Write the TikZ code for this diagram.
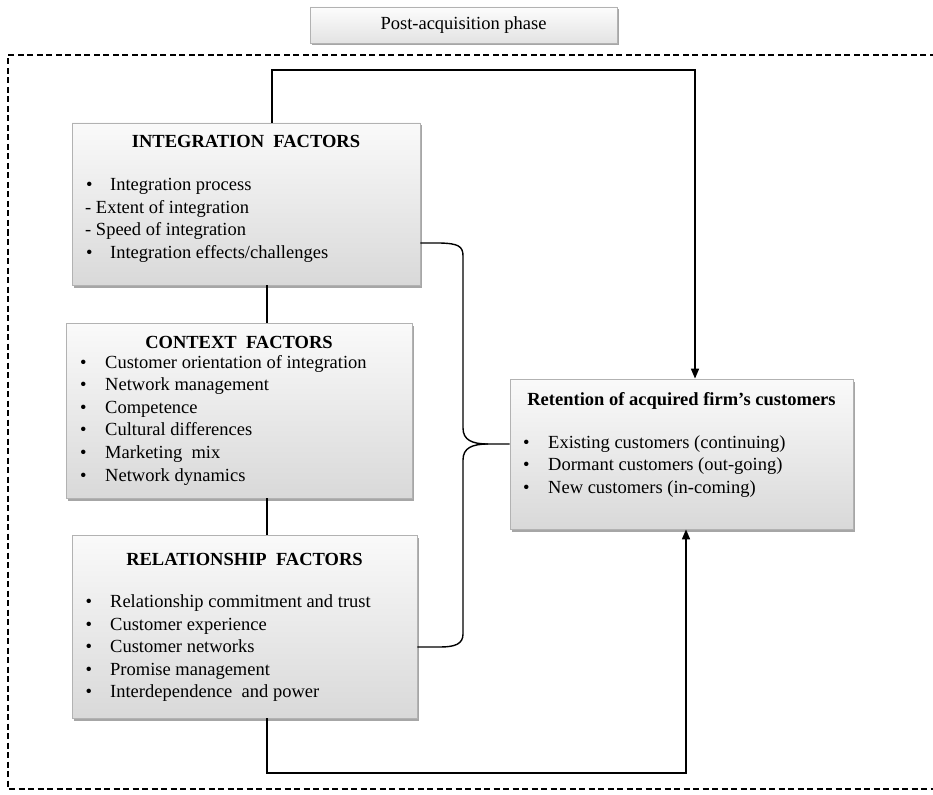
\documentclass[tikz,border=0pt]{standalone}
\usepackage{fontspec}
\setmainfont{Liberation Serif}
\usetikzlibrary{arrows.meta,shadows}

% bullet followed by a fixed indent
\newcommand\blt[1]{\makebox[#1][l]{\textbullet}}

\begin{document}
\begin{tikzpicture}[x=1pt,y=-1pt,
  txt/.style={inner sep=0pt,font=\fontsize{18.5}{22.6}\selectfont},
  head/.style={txt,anchor=base,font=\fontsize{18.5}{22.6}\selectfont\bfseries},
  item/.style={txt,anchor=base west},
  panel/.style={draw=gray!60,line width=0.8pt,top color=gray!4,bottom color=gray!30,
    drop shadow={shadow xshift=2pt,shadow yshift=-2.5pt,opacity=0.35,fill=black},
    inner sep=0pt},
  link/.style={line width=1.6pt,black},
  arrow/.style={link,-{Triangle[length=10pt,width=8pt]}}
]
\useasboundingbox (0,0) rectangle (933,794);

% phase frame (open to the right)
\draw[line width=1.5pt,dash pattern=on 6pt off 3.5pt] (945,55) -- (8,55) -- (8,789) -- (945,789);

% phase label
\node[panel,top color=gray!2,bottom color=gray!22,minimum width=307pt,minimum height=36pt,
  font=\fontsize{18.5}{22.6}\selectfont] (phase) at (463.5,25) {Post-acquisition phase};

% factor panels
\node[panel,minimum width=348pt,minimum height=162pt] (int) at (246,204) {};
\node[panel,minimum width=346pt,minimum height=175pt] (ctx) at (239,410.5) {};
\node[panel,minimum width=345pt,minimum height=183pt] (rel) at (244.5,626.5) {};
\node[panel,minimum width=343pt,minimum height=150pt] (ret) at (681.5,454) {};

% integration factors
\node[head] (int-h) at (246,148) {INTEGRATION\ \ FACTORS};
\node[item] (int-1) at (86,191)   {\blt{24pt}Integration process};
\node[item] (int-2) at (85,213.3) {- Extent of integration};
\node[item] (int-3) at (85,235.6) {- Speed of integration};
\node[item] (int-4) at (86,258)   {\blt{24pt}Integration effects/challenges};

% context factors
\node[head] (ctx-h) at (239,348) {CONTEXT\ \ FACTORS};
\foreach \t [count=\i from 0] in {Customer orientation of integration,Network management,
    Competence,Cultural differences,Marketing\ \ mix,Network dynamics}
  \node[item] (ctx-\i) at (80,368+22.6*\i) {\blt{25pt}\t};

% relationship factors
\node[head] (rel-h) at (244.5,565) {RELATIONSHIP\ \ FACTORS};
\foreach \t [count=\i from 0] in {Relationship commitment and trust,Customer experience,
    Customer networks,Promise management,Interdependence\ \ and power}
  \node[item] (rel-\i) at (85.5,607.5+22.6*\i) {\blt{24.5pt}\t};

% retention outcome
\node[head] (ret-h) at (681.5,405) {Retention of acquired firm’s customers};
\foreach \t [count=\i from 0] in {Existing customers (continuing),Dormant customers (out-going),
    New customers (in-coming)}
  \node[item] (ret-\i) at (523,448+22.7*\i) {\blt{25pt}\t};

% connectors
\coordinate (t1) at (272,70);
\coordinate (t2) at (695,70);
\coordinate (b1) at (267,773);
\coordinate (b2) at (686,773);
\draw[arrow] (int.north -| t1) -- (t1) -- (t2) -- (ret.north -| t2);
\draw[arrow] (rel.south -| b1) -- (b1) -- (b2) -- (ret.south -| b2);
\draw[link] (int.south -| b1) -- (ctx.north -| b1);
\draw[link] (ctx.south -| b1) -- (rel.north -| b1);

% brace joining the factor panels
\coordinate (tip) at (488,444);
\draw[link,line width=1.4pt] (int.east |- 0,243) -- (440,243)
  .. controls (458,243.5) and (463,246) .. (463,256) -- (463,428)
  .. controls (463,440) and (472,444) .. (tip) -- (ret.west |- tip);
\draw[link,line width=1.4pt] (tip)
  .. controls (472,444) and (463,448) .. (463,460) -- (463,634)
  .. controls (463,644) and (455,647) .. (440,647) -- (rel.east |- 0,647);
\end{tikzpicture}
\end{document}
